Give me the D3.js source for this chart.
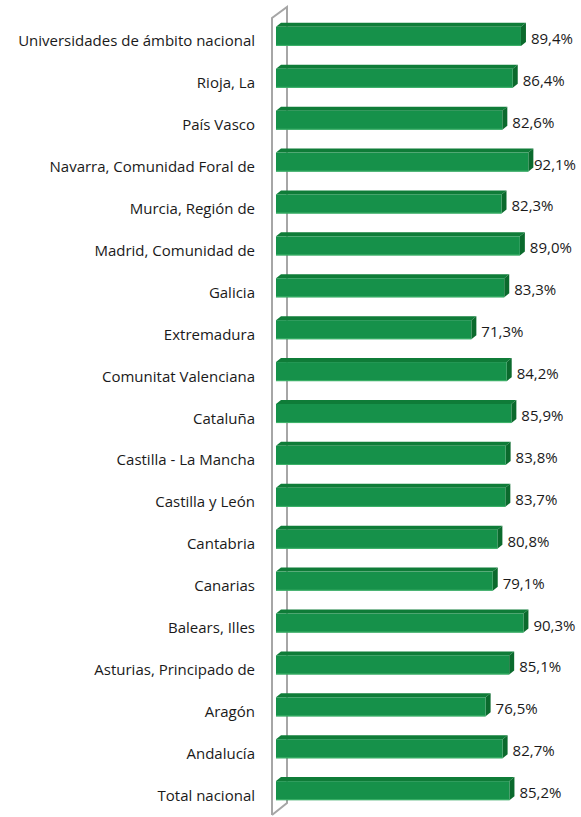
<!DOCTYPE html>
<html><head><meta charset="utf-8">
<script src="https://cdn.jsdelivr.net/npm/d3@7"></script>
<style>body{margin:0;background:#fff}svg{display:block}text{font-family:"Open Sans",sans-serif;fill:#1a1a1a}</style>
</head><body>
<script>
const categories = ["Universidades de ámbito nacional","Rioja, La","País Vasco","Navarra, Comunidad Foral de","Murcia, Región de","Madrid, Comunidad de","Galicia","Extremadura","Comunitat Valenciana","Cataluña","Castilla - La Mancha","Castilla y León","Cantabria","Canarias","Balears, Illes","Asturias, Principado de","Aragón","Andalucía","Total nacional"];
const values = [89.4,86.4,82.6,92.1,82.3,89.0,83.3,71.3,84.2,85.9,83.8,83.7,80.8,79.1,90.3,85.1,76.5,82.7,85.2];
const valueLabels = ["89,4%","86,4%","82,6%","92,1%","82,3%","89,0%","83,3%","71,3%","84,2%","85,9%","83,8%","83,7%","80,8%","79,1%","90,3%","85,1%","76,5%","82,7%","85,2%"];

const W=581,H=817;
const svg=d3.select("body").append("svg").attr("width",W).attr("height",H);
const x=d3.scaleLinear().domain([0,100]).range([276,550]);
const y=d3.scaleBand().domain(categories).range([15.5,811.5]).paddingInner(0.545).paddingOuter(0.27);
const dx=5, dy=-4, plotRight=576;

const wall=svg.append("g").attr("fill","none").attr("stroke","#a6a6a6").attr("stroke-width",2);
wall.append("path").attr("d",`M272,815 L272,18 L287,7 L287,803 L272,815`);

const g=svg.append("g");
const rows=g.selectAll("g").data(categories).join("g");
rows.each(function(c,i){
  const s=d3.select(this);
  const x0=x(0), x1=x(values[i]), y0=y(c), h=y.bandwidth();
  s.append("path").attr("d",`M${x0},${y0} L${x0+dx},${y0+dy} L${x1+dx},${y0+dy} L${x1},${y0} Z`).attr("fill","#0f7c38");
  s.append("path").attr("d",`M${x1},${y0} L${x1+dx},${y0+dy} L${x1+dx},${y0+dy+h} L${x1},${y0+h} Z`).attr("fill","#0b6a2d");
  s.append("rect").attr("x",x0).attr("y",y0).attr("width",x1-x0).attr("height",h).attr("fill","#16914a");
  s.append("line").attr("x1",x0).attr("x2",x1).attr("y1",y0+h-0.5).attr("y2",y0+h-0.5).attr("stroke","#3fb36b").attr("stroke-width",1);
  const t=s.append("text").attr("y",y0+h/2+7.5).attr("font-size",15).text(valueLabels[i]);
  const tw=t.node().getComputedTextLength();
  t.attr("x",Math.min(x1+dx+5,plotRight-tw));
  s.append("text").attr("x",255).attr("y",y0+h/2+10).attr("text-anchor","end").attr("font-size",15).text(c);
});
</script>
</body></html>
